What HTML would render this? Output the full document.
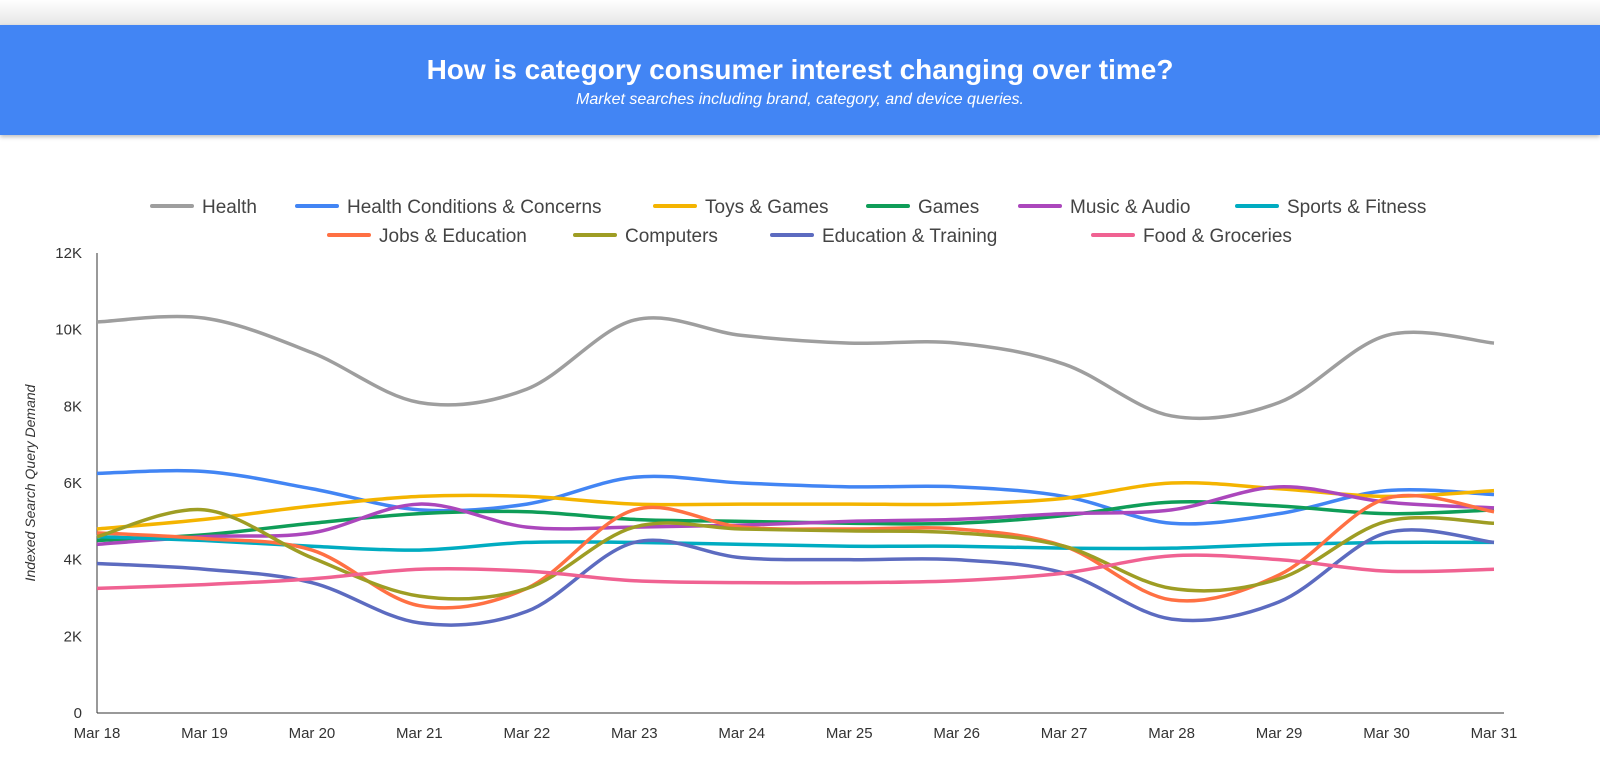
<!DOCTYPE html>
<html><head><meta charset="utf-8">
<style>
body{margin:0;width:1600px;height:767px;background:#fff;font-family:"Liberation Sans",Arial,sans-serif;overflow:hidden;position:relative}
#topbar{position:absolute;left:0;top:0;width:1600px;height:25px;background:linear-gradient(#fff,#e6e6e6)}
#header{position:absolute;left:0;top:25px;width:1600px;height:110px;background:#4285f4;box-shadow:0 2px 4px rgba(0,0,0,.25);color:#fff;text-align:center}
#title{position:absolute;top:29px;width:100%;font-size:28px;font-weight:bold}
#subtitle{position:absolute;top:66px;width:100%;font-size:16px;font-style:italic}
svg{position:absolute;left:0;top:0}
</style></head><body>
<div id="topbar"></div>
<div id="header">
<div id="title">How is category consumer interest changing over time?</div>
<div id="subtitle">Market searches including brand, category, and device queries.</div>
</div>
<svg id="chart" width="1600" height="767"></svg>
<script>
const categories=["Mar 18","Mar 19","Mar 20","Mar 21","Mar 22","Mar 23","Mar 24","Mar 25","Mar 26","Mar 27","Mar 28","Mar 29","Mar 30","Mar 31"];
const yTicks=[0,2,4,6,8,10,12];
const yTickLabels=["0","2K","4K","6K","8K","10K","12K"];
const seriesNames=["Health","Health Conditions & Concerns","Toys & Games","Games","Music & Audio","Sports & Fitness","Jobs & Education","Computers","Education & Training","Food & Groceries"];
const seriesColors=["#9e9e9e","#4285f4","#f4b400","#0f9d58","#ab47bc","#00acc1","#ff7043","#9e9d24","#5c6bc0","#f06292"];
const health=[10.2,10.3,9.4,8.1,8.45,10.25,9.85,9.65,9.65,9.1,7.75,8.1,9.85,9.65];
const healthCond=[6.25,6.3,5.85,5.3,5.45,6.15,6.0,5.9,5.9,5.65,4.95,5.2,5.8,5.7];
const toys=[4.8,5.05,5.4,5.65,5.65,5.45,5.45,5.45,5.45,5.6,6.0,5.85,5.65,5.8];
const games=[4.5,4.65,4.95,5.2,5.25,5.05,5.0,4.95,4.95,5.15,5.5,5.4,5.2,5.3];
const music=[4.4,4.6,4.7,5.45,4.85,4.85,4.9,5.0,5.05,5.2,5.3,5.9,5.5,5.35];
const sports=[4.6,4.5,4.35,4.25,4.45,4.45,4.4,4.35,4.35,4.3,4.3,4.4,4.45,4.45];
const jobs=[4.7,4.55,4.25,2.8,3.25,5.3,4.85,4.8,4.8,4.35,2.95,3.6,5.6,5.25];
const computers=[4.6,5.3,4.05,3.05,3.25,4.85,4.8,4.75,4.7,4.35,3.25,3.5,5.0,4.95];
const education=[3.9,3.75,3.4,2.35,2.65,4.45,4.05,4.0,4.0,3.65,2.45,2.9,4.7,4.45];
const food=[3.25,3.35,3.5,3.75,3.7,3.45,3.4,3.4,3.45,3.65,4.1,4.0,3.7,3.75];
const allSeries=[health,healthCond,toys,games,music,sports,jobs,computers,education,food];

const NS="http://www.w3.org/2000/svg";
const svg=document.getElementById("chart");
const X0=97,X1=1494,Y0=713,Y1=253;
const xScale=i=>X0+(X1-X0)*i/(categories.length-1);
const yScale=v=>Y0-(Y0-Y1)*v/12;
function mk(tag,attrs,parent){const e=document.createElementNS(NS,tag);for(const k in attrs)e.setAttribute(k,attrs[k]);(parent||svg).appendChild(e);return e;}

// axes
let ax=mk("line",{x1:X0,y1:Y1,x2:X0,y2:Y0,stroke:"#333","stroke-width":1});


let bx=mk("line",{x1:X0,y1:Y0,x2:X1+10,y2:Y0,stroke:"#333","stroke-width":1});


yTicks.forEach((v,i)=>{
  const t=mk("text",{x:82,y:yScale(v)+5,"text-anchor":"end","font-size":15,fill:"#333"});
  t.textContent=yTickLabels[i];
  
  
});
categories.forEach((c,i)=>{
  const t=mk("text",{x:xScale(i),y:738,"text-anchor":"middle","font-size":15,fill:"#333"});
  t.textContent=c;
  
  
});
const yt=mk("text",{x:0,y:0,transform:"translate(35,483) rotate(-90)","text-anchor":"middle","font-size":14,"font-style":"italic",fill:"#333"});
yt.textContent="Indexed Search Query Demand";



// lines
function pathFor(vals){
  const p=vals.map((v,i)=>[xScale(i),yScale(v)]);
  let d="M"+p[0][0]+","+p[0][1];
  for(let i=0;i<p.length-1;i++){
    const p0=p[Math.max(0,i-1)],p1=p[i],p2=p[i+1],p3=p[Math.min(p.length-1,i+2)];
    const c1=[p1[0]+(p2[0]-p0[0])/6,p1[1]+(p2[1]-p0[1])/6];
    const c2=[p2[0]-(p3[0]-p1[0])/6,p2[1]-(p3[1]-p1[1])/6];
    d+=" C"+c1[0]+","+c1[1]+" "+c2[0]+","+c2[1]+" "+p2[0]+","+p2[1];
  }
  return d;
}
allSeries.forEach((s,k)=>{
  const pth=mk("path",{d:pathFor(s),fill:"none",stroke:seriesColors[k],"stroke-width":3.5,"stroke-linejoin":"round"});
  
  
});

// legend
const legendPos=[[152,206],[297,206],[655,206],[868,206],[1020,206],[1237,206],[329,235],[575,235],[772,235],[1093,235]];
seriesNames.forEach((n,k)=>{
  const g=mk("g",{});
  
  
  const [lx,ly]=legendPos[k];
  mk("line",{x1:lx,y1:ly,x2:lx+40,y2:ly,stroke:seriesColors[k],"stroke-width":4,"stroke-linecap":"round"},g);
  const t=mk("text",{x:lx+50,y:ly+7,"font-size":19,fill:"#444"},g);
  t.textContent=n;
});
</script>
</body></html>
